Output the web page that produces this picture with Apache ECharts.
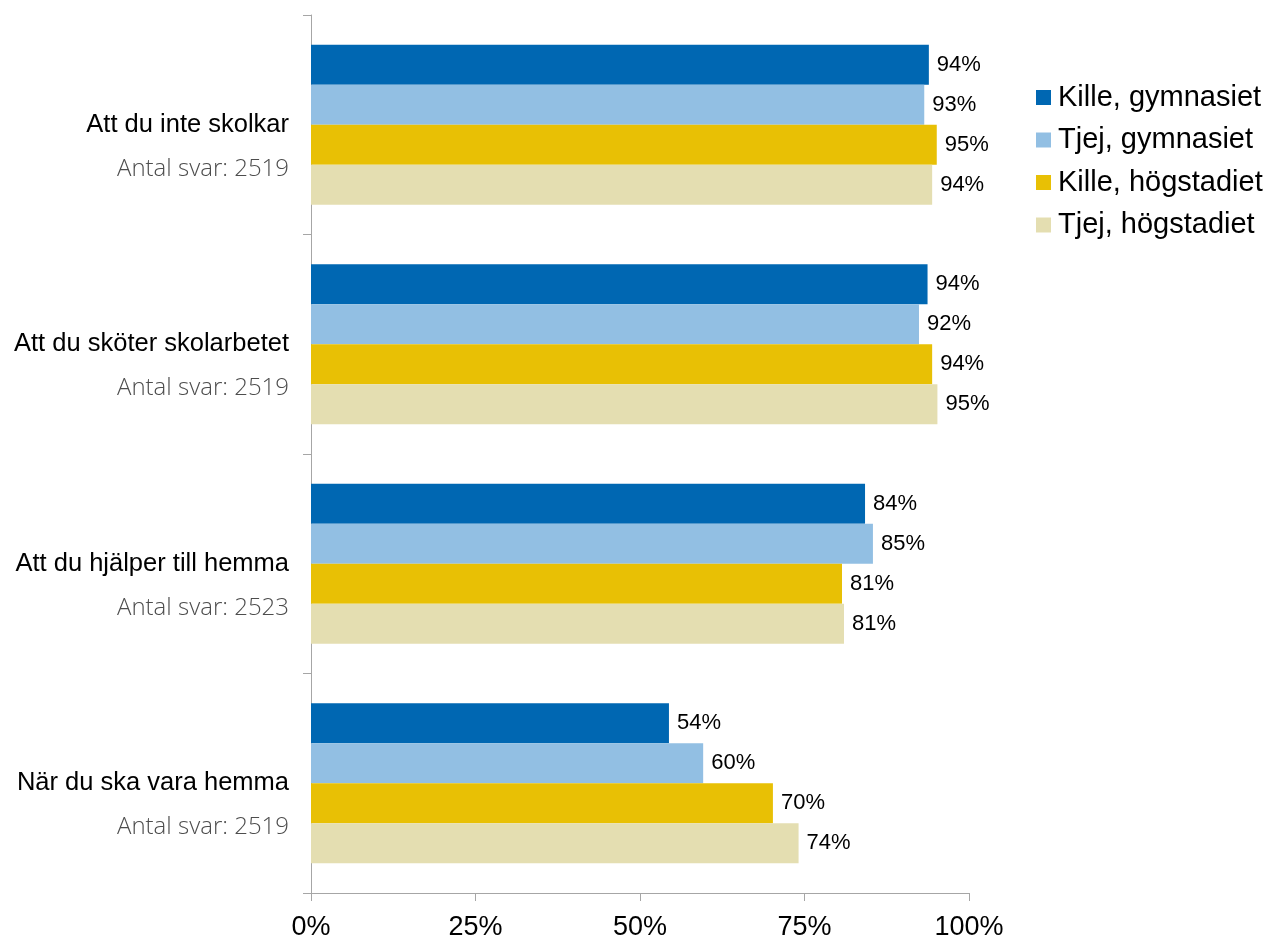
<!DOCTYPE html>
<html>
<head>
<meta charset="utf-8">
<script src="https://cdn.jsdelivr.net/npm/echarts@6/dist/echarts.min.js"></script>
<style>
html,body{margin:0;padding:0;background:#fff;}
#main{width:1267px;height:939px;}
</style>
</head>
<body>
<div id="main"></div>
<script>
const categories = ["Att du inte skolkar", "Att du sköter skolarbetet", "Att du hjälper till hemma", "När du ska vara hemma"];
const answerCounts = ["Antal svar: 2519", "Antal svar: 2519", "Antal svar: 2523", "Antal svar: 2519"];
const seriesNames = ["Kille, gymnasiet", "Tjej, gymnasiet", "Kille, högstadiet", "Tjej, högstadiet"];
const killeGymnasiet = [93.9, 93.7, 84.2, 54.4];
const tjejGymnasiet = [93.2, 92.4, 85.4, 59.6];
const killeHogstadiet = [95.1, 94.4, 80.7, 70.2];
const tjejHogstadiet = [94.4, 95.2, 81.0, 74.1];
const xTicks = [0, 25, 50, 75, 100];
const colors = ["#0067b2", "#92bfe3", "#e8c005", "#e4deb1"];

const chart = echarts.init(document.getElementById('main'), null, {renderer: 'canvas'});
const seriesData = [killeGymnasiet, tjejGymnasiet, killeHogstadiet, tjejHogstadiet];

const option = {
  animation: false,
  backgroundColor: '#ffffff',
  color: colors,
  grid: {left: 311, right: 298, top: 15, bottom: 46, containLabel: false, outerBoundsMode: 'none'},
  legend: {
    orient: 'vertical',
    left: 1036,
    top: 83,
    padding: 0,
    itemWidth: 15,
    itemHeight: 15,
    itemGap: 13.5,
    icon: 'rect',
    data: seriesNames,
    textStyle: {fontFamily: 'Liberation Sans', fontSize: 29, color: '#000', lineHeight: 27, padding: [0, 0, 0, 2]}
  },
  xAxis: {
    type: 'value',
    min: 0,
    max: 100,
    interval: 25,
    axisLine: {show: true, lineStyle: {color: '#a6a6a6', width: 1}},
    axisTick: {show: true, length: 8, lineStyle: {color: '#a6a6a6'}},
    splitLine: {show: false},
    axisLabel: {
      margin: 21,
      fontFamily: 'Liberation Sans',
      fontSize: 27,
      color: '#000',
      formatter: function (v) { return xTicks.indexOf(v) >= 0 ? v + '%' : ''; }
    }
  },
  yAxis: {
    type: 'category',
    inverse: true,
    data: categories,
    axisLine: {show: true, lineStyle: {color: '#a6a6a6', width: 1}},
    axisTick: {show: true, length: 8, alignWithLabel: false, lineStyle: {color: '#a6a6a6'}},
    axisLabel: {
      margin: 22,
      align: 'right',
      formatter: function (v, i) { return '{a|' + v + '}\n{b|' + answerCounts[i] + '}'; },
      padding: [44, 0, 0, 0],
      rich: {
        a: {fontFamily: 'Liberation Sans', fontSize: 25.5, color: '#000', lineHeight: 44, align: 'right'},
        b: {fontFamily: 'Open Sans', fontWeight: 300, fontSize: 24, color: '#4d4d4d', lineHeight: 44, align: 'right'}
      }
    }
  },
  series: seriesNames.map(function (name, k) {
    return {
      name: name,
      type: 'bar',
      data: seriesData[k],
      barWidth: 40,
      barGap: '0%',
      itemStyle: {color: colors[k]},
      label: {
        show: true,
        position: 'right',
        distance: 8,
        fontFamily: 'Liberation Sans',
        fontSize: 22,
        color: '#000',
        formatter: function (p) { return Math.round(p.value) + '%'; }
      }
    };
  })
};
chart.setOption(option);
</script>
</body>
</html>
